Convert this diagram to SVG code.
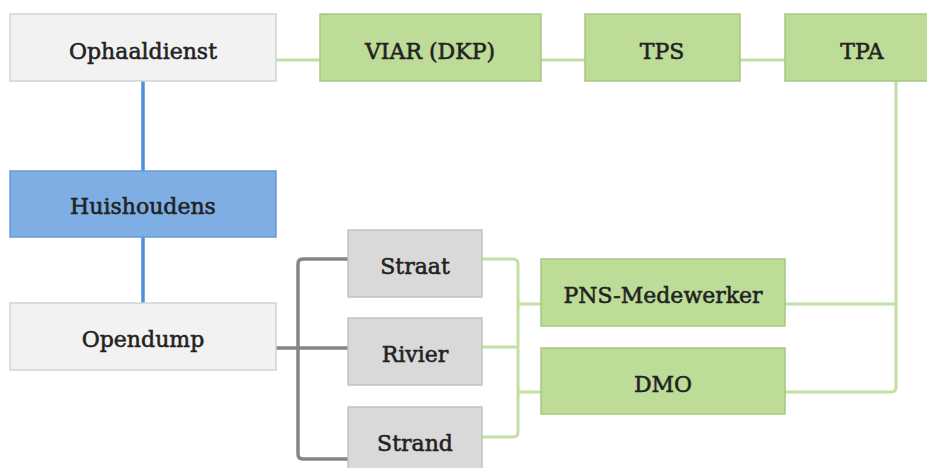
<svg xmlns="http://www.w3.org/2000/svg" width="927" height="468" viewBox="0 0 927 468">
<style>
.light{fill:#f2f2f2;stroke:#d2d2d2;stroke-width:1.5}
.blue{fill:#7eaee3;stroke:#6a9bd3;stroke-width:1.5}
.green{fill:#bcdc98;stroke:#a6c785;stroke-width:1.5}
.grey{fill:#d9d9d9;stroke:#c2c2c2;stroke-width:1.5}
text{font-family:"DejaVu Serif","Liberation Serif",serif;font-size:22px;fill:#222222;stroke:#222222;stroke-width:0.55;text-anchor:middle}
.cg{fill:none;stroke:#c3e0a3;stroke-width:3}
.cb{fill:none;stroke:#4e8fdc;stroke-width:3.5}
.cy{fill:none;stroke:#858585;stroke-width:3.5}
</style>
<rect width="927" height="468" fill="#ffffff"/>
<g id="connectors">
<line class="cg" x1="276" y1="60" x2="785" y2="60"/>
<line class="cb" x1="143" y1="81" x2="143" y2="171"/>
<line class="cb" x1="143" y1="237" x2="143" y2="303"/>
<path class="cy" d="M348,259 H303 Q298,259 298,264 V454 Q298,459 303,459 H348"/>
<line class="cy" x1="276" y1="348" x2="348" y2="348"/>
<path class="cg" d="M482,259 H513 Q518,259 518,264 V432 Q518,437 513,437 H482"/>
<line class="cg" x1="482" y1="347" x2="518" y2="347"/>
<line class="cg" x1="518" y1="304" x2="541" y2="304"/>
<line class="cg" x1="518" y1="392" x2="541" y2="392"/>
<path class="cg" d="M896,81 V387 Q896,392 891,392 H785"/>
<line class="cg" x1="785" y1="304" x2="896" y2="304"/>
</g>
<g id="ophaaldienst"><rect class="light" x="10" y="14" width="266" height="67"/><text x="143" y="59">Ophaaldienst</text></g>
<g id="viar"><rect class="green" x="320" y="14" width="221" height="67"/><text x="430" y="59">VIAR (DKP)</text></g>
<g id="tps"><rect class="green" x="585" y="14" width="155" height="67"/><text x="662" y="59">TPS</text></g>
<g id="tpa"><rect class="green" x="785" y="14" width="155" height="67"/><text x="862" y="59">TPA</text></g>
<g id="huishoudens"><rect class="blue" x="10" y="171" width="266" height="66"/><text x="143" y="214">Huishoudens</text></g>
<g id="opendump"><rect class="light" x="10" y="303" width="266" height="67"/><text x="143" y="347">Opendump</text></g>
<g id="straat"><rect class="grey" x="348" y="230" width="134" height="67"/><text x="415" y="274">Straat</text></g>
<g id="rivier"><rect class="grey" x="348" y="318" width="134" height="67"/><text x="415" y="362">Rivier</text></g>
<g id="strand"><rect class="grey" x="348" y="407" width="134" height="67"/><text x="415" y="451">Strand</text></g>
<g id="pns"><rect class="green" x="541" y="259" width="244" height="67"/><text x="663" y="303">PNS-Medewerker</text></g>
<g id="dmo"><rect class="green" x="541" y="348" width="244" height="66"/><text x="663" y="392">DMO</text></g>
</svg>
